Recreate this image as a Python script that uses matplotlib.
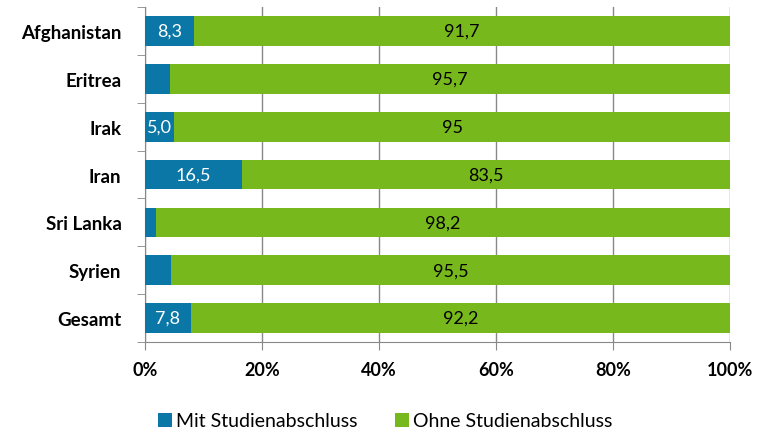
import numpy as np
import matplotlib.pyplot as plt

plt.rcParams['font.family'] = ['Lato', 'DejaVu Sans']

laender = ["Afghanistan", "Eritrea", "Irak", "Iran", "Sri Lanka", "Syrien", "Gesamt"]
mit = [8.3, 4.3, 5.0, 16.5, 1.8, 4.5, 7.8]
ohne = [91.7, 95.7, 95.0, 83.5, 98.2, 95.5, 92.2]
mit_labels = ["8,3", "", "5,0", "16,5", "", "", "7,8"]
ohne_labels = ["91,7", "95,7", "95", "83,5", "98,2", "95,5", "92,2"]
xticks = [0, 20, 40, 60, 80, 100]

blau = "#0b77a6"
gruen = "#77b81c"

fig = plt.figure(figsize=(7.58, 4.35), dpi=100)
ax = fig.add_axes([0.1913, 0.2115, 0.7718, 0.770])

y = np.arange(len(laender))
ax.barh(y, mit, height=0.62, color=blau, label="Mit Studienabschluss", zorder=3)
ax.barh(y, ohne, left=mit, height=0.62, color=gruen, label="Ohne Studienabschluss", zorder=3)

for i in range(len(laender)):
    if mit_labels[i]:
        ax.text(mit[i] / 2, y[i], mit_labels[i], ha="center", va="center",
                color="white", fontsize=13, zorder=4)
    ax.text(mit[i] + ohne[i] / 2, y[i], ohne_labels[i], ha="center", va="center",
            color="black", fontsize=13, zorder=4)

ax.set_xlim(0, 100)
ax.set_ylim(len(laender) - 0.5, -0.5)
ax.set_xticks(xticks)
ax.set_xticklabels([f"{v}%" for v in xticks], fontsize=13, fontweight="bold")
ax.set_yticks(y)
ax.set_yticklabels(laender, fontsize=13.5, fontweight="bold")
ax.set_yticks(np.arange(-0.5, len(laender), 1), minor=True)
ax.tick_params(axis="y", which="major", length=0, pad=17)
ax.tick_params(axis="y", which="minor", length=6, color="#888888", direction="out")
ax.tick_params(axis="x", length=6, color="#888888", pad=8)

ax.grid(axis="x", color="#888888", linewidth=1, zorder=0)
for s in ["top", "right"]:
    ax.spines[s].set_visible(False)
for s in ["left", "bottom"]:
    ax.spines[s].set_color("#888888")

fig.legend(*ax.get_legend_handles_labels(), loc="center", bbox_to_anchor=(0.508, 0.03),
           ncol=2, frameon=False, fontsize=14, handlelength=0.75, handleheight=0.75,
           handletextpad=0.2, columnspacing=1.9, borderpad=0)

fig.savefig("out.png", dpi=100)
